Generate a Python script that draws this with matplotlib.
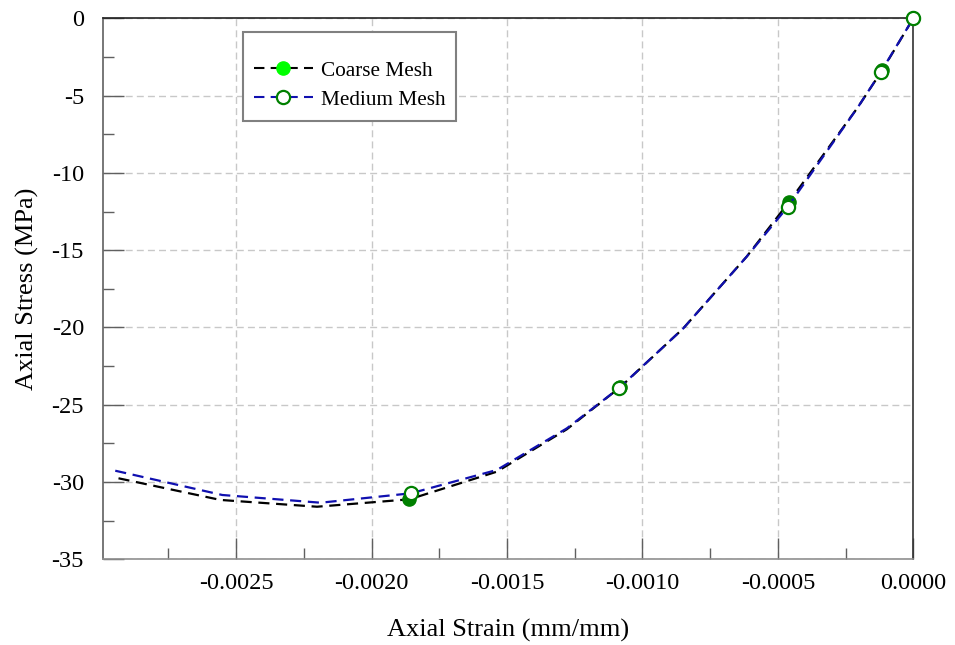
import matplotlib
matplotlib.use("Agg")
import matplotlib.pyplot as plt
from matplotlib.lines import Line2D
from matplotlib.ticker import MultipleLocator, FormatStrFormatter

plt.rcParams['font.family'] = ['Liberation Serif', 'DejaVu Serif']
plt.rcParams['axes.unicode_minus'] = False

# Stress-strain response for the two mesh densities
coarse_strain = [-0.002934, -0.002558, -0.002201, -0.001860, -0.001537, -0.001279,
                 -0.001082, -0.000849, -0.000615, -0.000458, -0.000204, -0.000114, 0.0]
coarse_stress = [-29.76, -31.16, -31.60, -31.12, -29.33, -26.59,
                 -23.87, -20.06, -15.42, -11.87, -5.74, -3.34, 0.0]

medium_strain = [-0.002946, -0.002551, -0.002188, -0.001854, -0.001537, -0.001279,
                 -0.001086, -0.000849, -0.000615, -0.000463, -0.000204, -0.000119, 0.0]
medium_stress = [-29.27, -30.84, -31.34, -30.73, -29.22, -26.53,
                 -23.92, -20.06, -15.42, -12.19, -5.74, -3.45, 0.0]

marker_idx = [3, 6, 9, 11, 12]
series_labels = ['Coarse Mesh', 'Medium Mesh']

fig = plt.figure(figsize=(9.55, 6.45), dpi=100)
ax = fig.add_axes([0.1082, 0.1329, 0.8481, 0.8387])

ax.plot(coarse_strain, coarse_stress, color='black', lw=1.6, ls=(0, (5, 3)),
        marker='o', markevery=marker_idx, ms=9.5, mfc='#008000', mec='#008000',
        zorder=3, clip_on=False)
ax.plot(medium_strain, medium_stress, color='#1010b0', lw=1.6, ls=(0, (5, 3)),
        marker='o', markevery=marker_idx, ms=9.5, mfc='white', mec='#008000', mew=1.6,
        zorder=4, clip_on=False)

ax.set_xlim(-0.00299, 0.0)
ax.set_ylim(-35, 0)
ax.xaxis.set_major_locator(MultipleLocator(0.0005))
ax.xaxis.set_minor_locator(MultipleLocator(0.00025))
ax.yaxis.set_major_locator(MultipleLocator(5))
ax.yaxis.set_minor_locator(MultipleLocator(2.5))
ax.xaxis.set_major_formatter(FormatStrFormatter('%.4f'))
ax.yaxis.set_major_formatter(FormatStrFormatter('%d'))

ax.tick_params(axis='both', which='both', direction='in', colors='#606060',
               labelcolor='black', labelsize=17.5, top=False, right=False)
ax.tick_params(axis='both', which='major', length=15, width=1)
ax.tick_params(axis='both', which='minor', length=8, width=1)
ax.tick_params(axis='x', which='major', pad=10)
ax.tick_params(axis='y', which='major', pad=14)

ax.grid(True, which='major', color='#c8c8c8', ls=(0, (5, 3)), lw=1)
ax.set_axisbelow(True)

ax.spines['left'].set_color('#606060')
ax.spines['bottom'].set_color('#909090')
ax.spines['top'].set_color('#222222')
ax.spines['right'].set_color('#333333')
for s in ax.spines.values():
    s.set_linewidth(1.2)

ax.set_xlabel('Axial Strain (mm/mm)', fontsize=19, labelpad=18)
ax.set_ylabel('Axial Stress (MPa)', fontsize=19, labelpad=9)

handles = [
    Line2D([], [], color='black', lw=1.5, ls=(0, (5, 3)), marker='o', ms=9.5,
           mfc='#00ff00', mec='#00ff00'),
    Line2D([], [], color='#1010b0', lw=1.5, ls=(0, (5, 3)), marker='o', ms=9.5,
           mfc='white', mec='#008000', mew=1.6),
]
leg = ax.legend(handles, series_labels, loc='upper left', bbox_to_anchor=(0.1725, 0.975),
                borderaxespad=0, fontsize=15.3, title=' ', title_fontsize=8,
                handlelength=2.8, handletextpad=0.35, labelspacing=0.44,
                borderpad=0.5, fancybox=False, framealpha=1)
leg.get_frame().set_edgecolor('#808080')
leg.get_frame().set_linewidth(1.5)

fig.savefig('out.png', dpi=100)
